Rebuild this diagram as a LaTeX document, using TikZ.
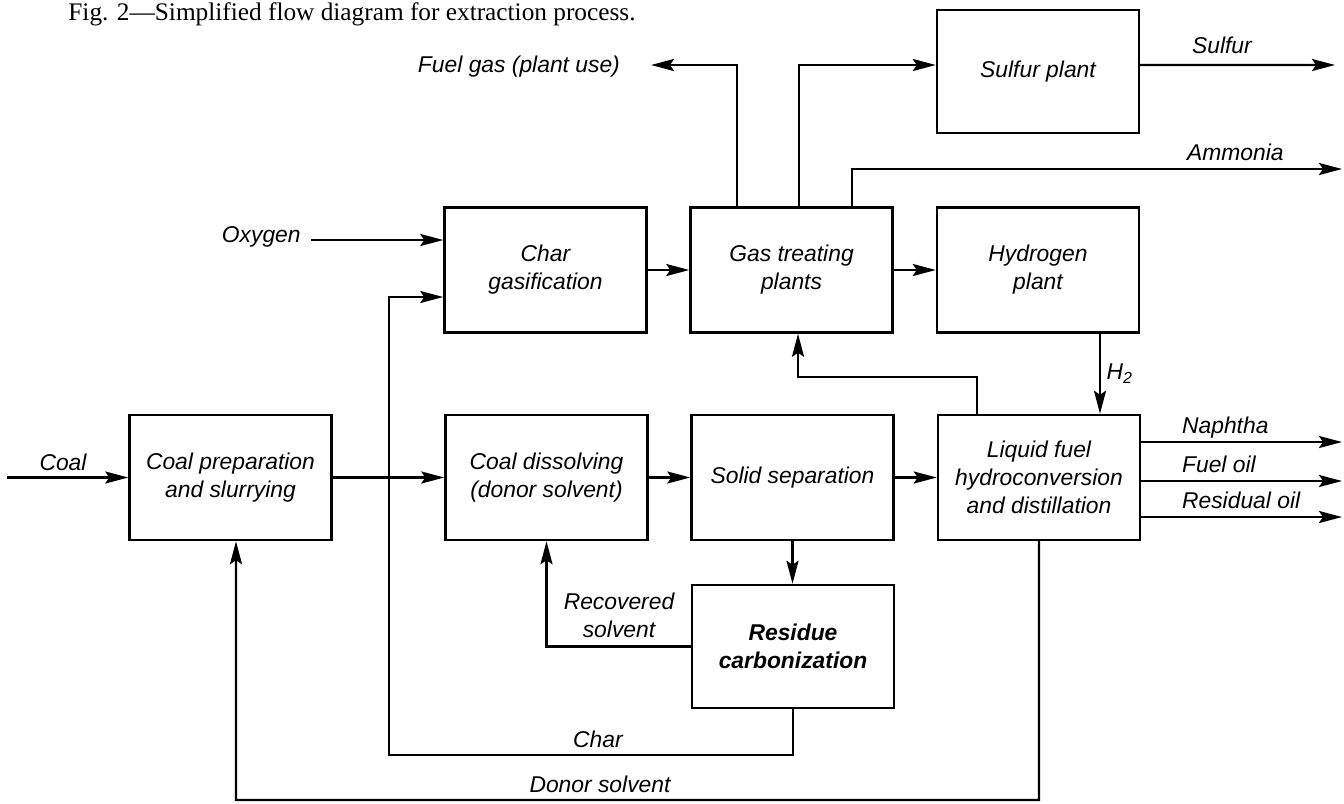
\documentclass[tikz,border=0pt]{standalone}
\usepackage{fontspec}
\setmainfont{Liberation Serif}
\newfontfamily\letfont{Liberation Sans}
\usetikzlibrary{arrows.meta,positioning}

\tikzset{
  unit/.style={draw, line width=1.4pt, minimum width=40.4mm, minimum height=25mm,
    align=center, font=\letfont\itshape\fontsize{13}{16}\selectfont},
  lbl/.style={font=\letfont\itshape\fontsize{13}{16}\selectfont, inner sep=1pt, align=center},
  flow/.style={line width=1.4pt, -{Stealth[length=4.6mm,width=2.4mm,inset=0.8mm]}},
}

\begin{document}
\begin{tikzpicture}[x=0.2mm, y=-0.2mm]
  \useasboundingbox (0,0) rectangle (1344,803);

  % Title
  \node[font=\fontsize{14.4}{16}\selectfont] (title) at (352,14)
    {Fig. 2---Simplified flow diagram for extraction process.};

  % Process units
  \node[unit] (prep)     at (230.5,477.5) {Coal preparation\\and slurrying};
  \node[unit] (gasif)    at (545.5,270)   {Char\\gasification};
  \node[unit] (gastreat) at (791.5,270)   {Gas treating\\plants};
  \node[unit] (hydro)    at (1038,270)    {Hydrogen\\plant};
  \node[unit, minimum height=24.6mm] (sulfur) at (1038,71.5) {Sulfur plant};
  \node[unit] (dissolve) at (546.5,477.5) {Coal dissolving\\(donor solvent)};
  \node[unit] (solidsep) at (792.5,477.5) {Solid separation};
  \node[unit] (liquid)   at (1039,477.5)  {Liquid fuel\\hydroconversion\\and distillation};
  \node[unit, minimum height=24.6mm, font=\letfont\itshape\bfseries\fontsize{13}{16}\selectfont]
    (residue) at (793,646.5) {Residue\\carbonization};

  % Feeds and free ends
  \coordinate (coalstart)   at (7,477.5);
  \coordinate (fuelgasend)  at (651,65);
  \coordinate (sulfurend)   at (1335,65);
  \coordinate (ammoniaend)  at (1342,169);
  \coordinate (oxyin)       at ([yshift=6mm]gasif.west);
  \coordinate (charbend)    at (389,755);
  \coordinate (donorbend)   at (236,800);

  \node[lbl] (coal) at (63,462) {Coal};
  \draw[flow] (coalstart) -- (prep.west);

  \node[lbl, anchor=east, inner xsep=2mm] (oxygen) at (311,237) {Oxygen};
  \draw[flow] (oxygen.east |- oxyin) -- (oxyin);

  % Main line
  \draw[flow] (prep) -- (dissolve);
  \draw[flow] (dissolve) -- (solidsep);
  \draw[flow] (solidsep) -- (liquid);
  \draw[flow] (gasif) -- (gastreat);
  \draw[flow] (gastreat) -- (hydro);
  \draw[flow] (solidsep.south) -- (solidsep.south |- residue.north);

  % Gas side
  \node[lbl, anchor=base east] (fuelgas) at (622,72) {Fuel gas (plant use)};
  \draw[flow] ([xshift=-10.9mm]gastreat.north) |- (fuelgasend);
  \draw[flow] ([xshift=1.5mm]gastreat.north) |- ([yshift=1.3mm]sulfur.west);
  \draw[flow] ([yshift=1.3mm]sulfur.east) -- (sulfurend);
  \node[lbl, anchor=base west] (sulfurlbl) at (1190,53) {Sulfur};
  \draw[flow] ([xshift=12.1mm]gastreat.north) |- (ammoniaend);
  \node[lbl, anchor=base west] (ammonialbl) at (1185,160) {Ammonia};

  \draw[flow] ([xshift=12.4mm]hydro.south) -- ([xshift=12.4mm]hydro.south |- liquid.north)
    node[lbl, midway, right=2pt] (htwo) {H\textsubscript{2}};
  \draw[flow] ([xshift=-12.4mm]liquid.north) -- ++(0,-37) -| ([xshift=1.3mm]gastreat.south);

  % Products
  \foreach \prod/\yy [count=\i] in {Naphtha/442,Fuel oil/481,Residual oil/517}{
    \coordinate (prod\i) at (1342,\yy);
    \draw[flow] (liquid.east |- prod\i) -- (prod\i);
    \node[lbl, anchor=base west] (prodlbl\i) at (1180,\yy-9) {\prod};
  }

  % Recycle streams
  \draw[flow] (residue.west) -| (dissolve.south);
  \node[lbl] (recov) at (619,615) {Recovered\\solvent};
  \draw[flow] (residue.south) |- (charbend) |- ([yshift=-5.4mm]gasif.west);
  \node[lbl, anchor=base] (charlbl) at (598,747) {Char};
  \draw[flow] (liquid.south) |- (donorbend) -- ([xshift=1.1mm]prep.south);
  \node[lbl, anchor=base] (donorlbl) at (600,792) {Donor solvent};

\end{tikzpicture}
\end{document}
